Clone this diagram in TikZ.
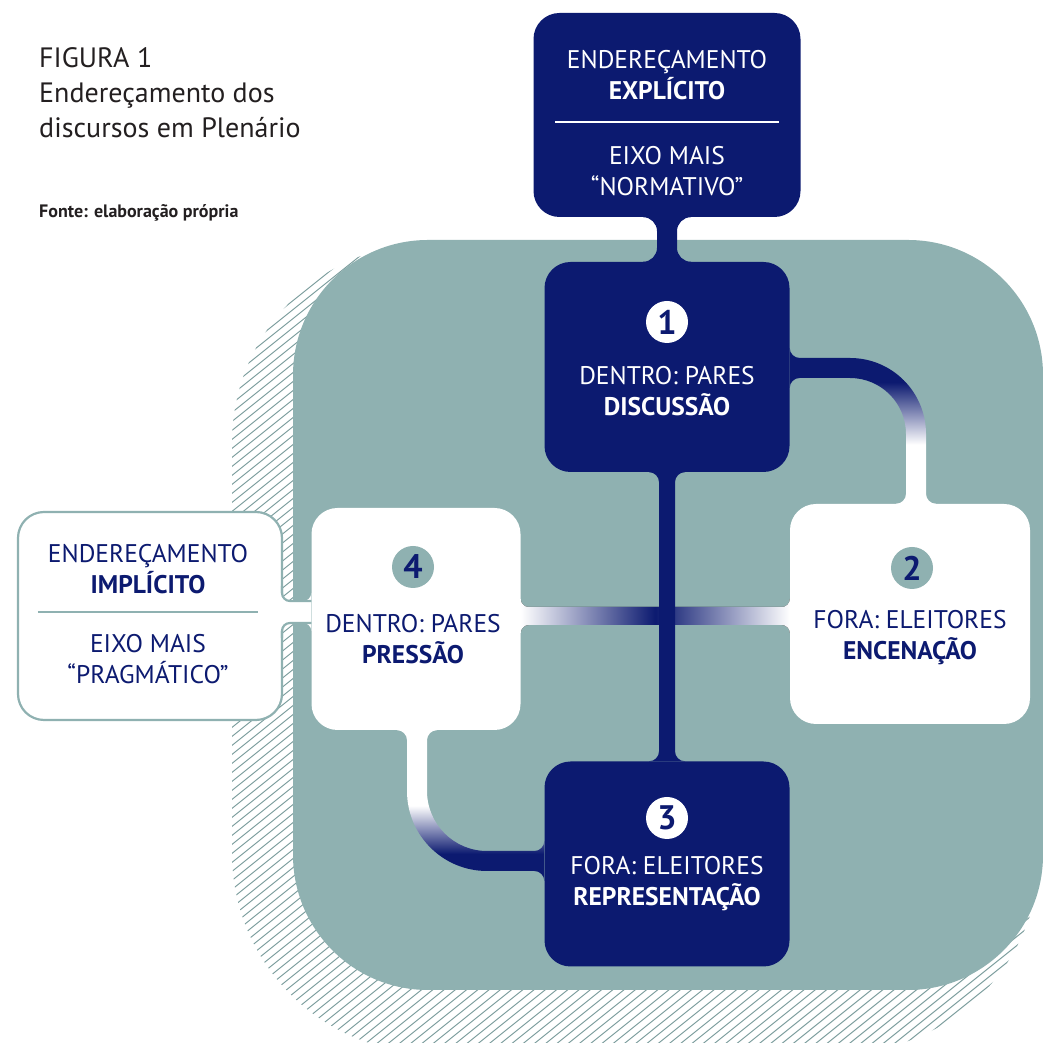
\documentclass[tikz,border=0pt]{standalone}
\usepackage{fontspec}
\setmainfont{PT Sans}
\usetikzlibrary{calc,positioning}

\definecolor{navy}{RGB}{12,26,112}
\definecolor{sage}{RGB}{143,177,177}
\definecolor{hatchc}{RGB}{125,158,158}
\definecolor{ink}{RGB}{35,31,32}

\pgfdeclarelayer{back}
\pgfdeclarelayer{links}
\pgfsetlayers{back,links,main}

\pgfdeclareverticalshading{fadeup}{100bp}{color(0bp)=(white); color(44bp)=(white); color(64bp)=(navy); color(100bp)=(navy)}
\pgfdeclareverticalshading{fadedown}{100bp}{color(0bp)=(navy); color(34bp)=(navy); color(50bp)=(white); color(100bp)=(white)}

% necks with round fillets: #1,#2 ends, #3 half width, #4 fillet, #5 fill
\newcommand{\hneck}[5]{%
  \fill[#5] ($(#1)+(0,#3+#4)$) arc[start angle=180,end angle=270,radius=#4pt]
    -- ($(#2)+(-#4,#3)$) arc[start angle=270,end angle=360,radius=#4pt]
    -- ($(#2)+(0,-#3-#4)$) arc[start angle=0,end angle=90,radius=#4pt]
    -- ($(#1)+(#4,-#3)$) arc[start angle=90,end angle=180,radius=#4pt] -- cycle;}
\newcommand{\vneck}[5]{%
  \fill[#5] ($(#1)+(-#3-#4,0)$) arc[start angle=90,end angle=0,radius=#4pt]
    -- ($(#2)+(-#3,#4)$) arc[start angle=0,end angle=-90,radius=#4pt]
    -- ($(#2)+(#3+#4,0)$) arc[start angle=270,end angle=180,radius=#4pt]
    -- ($(#1)+(#3,-#4)$) arc[start angle=180,end angle=90,radius=#4pt] -- cycle;}

\tikzset{
  darkbox/.style={rectangle, rounded corners=26pt, fill=navy, inner sep=0pt},
  lightbox/.style={rectangle, rounded corners=26pt, fill=white, inner sep=0pt},
  numdark/.style={circle, minimum size=42pt, inner sep=0pt, fill=white, text=navy, font=\fontsize{34}{34}\selectfont\bfseries},
  numlight/.style={numdark, fill=sage},
  lbl/.style={align=center, inner sep=0pt, font=\fontsize{25.5}{31}\selectfont},
  title/.style={anchor=base west, inner sep=0pt, text=ink, font=\fontsize{28}{28}\selectfont},
}

\begin{document}
\begin{tikzpicture}[x=1pt, y=1pt]
\useasboundingbox (0,0) rectangle (1043,1043);

% title
\node[title] (fig) at (39,975) {FIGURA 1};
\node[title] (tit1) at (39,940) {Endereçamento dos};
\node[title] (tit2) at (39,905) {discursos em Plenário};
\node[title, font=\fontsize{18}{18}\selectfont\bfseries] (fonte) at (39,825) {Fonte: elaboração própria};

% boxes
\node[darkbox, minimum width=267pt, minimum height=204pt] (exp) at (667,928) {};
\node[darkbox, minimum width=245pt, minimum height=210pt] (dis) at (667,676) {};
\node[lightbox, minimum width=240pt, minimum height=220pt] (enc) at (910,429) {};
\node[darkbox, minimum width=245pt, minimum height=205pt] (rep) at (667,179) {};
\node[lightbox, minimum width=209pt, minimum height=222pt] (pre) at (416,424) {};
\node[lightbox, draw=sage, line width=2.2pt, minimum width=264pt, minimum height=208pt] (imp) at (150,427) {};

% texts of the boxes
\node[lbl, text=white] (exp-a) at (667,968) {ENDEREÇAMENTO\\\textbf{EXPLÍCITO}};
\draw[white, line width=1.5pt] ($(exp.west)+(22,-7)$) -- ($(exp.east)+(-22,-7)$);
\node[lbl, text=white] (exp-b) at (667,872) {EIXO MAIS\\“NORMATIVO”};

\node[numdark] (n1) at ($(dis.center)+(0,45)$) {1};
\node[lbl, text=white] (dis-t) at ($(dis.center)+(0,-24)$) {DENTRO: PARES\\\textbf{DISCUSSÃO}};

\node[numlight] (n2) at ($(enc.center)+(2,46)$) {2};
\node[lbl, text=navy] (enc-t) at ($(enc.center)+(0,-24)$) {FORA: ELEITORES\\\textbf{ENCENAÇÃO}};

\node[numdark] (n3) at ($(rep.center)+(0,46)$) {3};
\node[lbl, text=white] (rep-t) at ($(rep.center)+(0,-20)$) {FORA: ELEITORES\\\textbf{REPRESENTAÇÃO}};

\node[numlight] (n4) at ($(pre.center)+(-3,52)$) {4};
\node[lbl, text=navy] (pre-t) at ($(pre.center)+(-3,-20)$) {DENTRO: PARES\\\textbf{PRESSÃO}};

\node[lbl, text=navy] (imp-a) at (148,474) {ENDEREÇAMENTO\\\textbf{IMPLÍCITO}};
\draw[sage, line width=2pt] ($(imp.west)+(21,4)$) -- ($(imp.east)+(-25,4)$);
\node[lbl, text=navy] (imp-b) at (148,384) {EIXO MAIS\\“PRAGMÁTICO”};

% neck from the implicit box into box 4
\coordinate (ic) at (0,431);
\coordinate (iL) at ($(imp.east |- ic)+(-1.1,0)$);
\fill[white] ($(iL)+(-1.6,-19)$) rectangle ($(iL)+(1.2,19)$);
\hneck{iL}{pre.west |- ic}{11}{8}{white}
\draw[sage, line width=2.2pt] ($(iL)+(0,26)$) -- ($(iL)+(0,19)$) arc[start angle=180,end angle=270,radius=8pt] -- ($(pre.west |- ic)+(0,11)$);
\draw[sage, line width=2.2pt] ($(iL)+(0,-26)$) -- ($(iL)+(0,-19)$) arc[start angle=180,end angle=90,radius=8pt] -- ($(pre.west |- ic)+(0,-11)$);

% links between the boxes
\begin{pgfonlayer}{links}
  \vneck{exp.south}{dis.north}{10}{14}{navy}
  \coordinate (hc) at (0,427);
  \hneck{pre.east |- hc}{enc.west |- hc}{9}{8}{left color=white, right color=white, middle color=navy}
  \vneck{dis.south}{rep.north}{8}{10}{navy}
  % 1 -> 2
  \coordinate (k1) at (916,675);
  \shade[shading=fadeup] ($(dis.east |- k1)+(0,20)$) arc[start angle=180,end angle=270,radius=10pt]
    -- ($(k1)+(-66,10)$) arc[start angle=90,end angle=0,radius=76pt]
    -- ($(enc.north -| k1)+(10,10)$) arc[start angle=180,end angle=270,radius=10pt]
    -- ($(enc.north -| k1)+(-20,0)$) arc[start angle=270,end angle=360,radius=10pt]
    -- ($(k1)+(-10,-66)$) arc[start angle=0,end angle=90,radius=56pt]
    -- ($(dis.east |- k1)+(10,-10)$) arc[start angle=90,end angle=180,radius=10pt] -- cycle;
  % 4 -> 3
  \coordinate (k2) at (417,182);
  \shade[shading=fadedown] ($(pre.south -| k2)+(-20,0)$) arc[start angle=90,end angle=0,radius=10pt]
    -- ($(k2)+(-10,70)$) arc[start angle=180,end angle=270,radius=80pt]
    -- ($(rep.west |- k2)+(-10,-10)$) arc[start angle=90,end angle=0,radius=10pt]
    -- ($(rep.west |- k2)+(0,20)$) arc[start angle=0,end angle=-90,radius=10pt]
    -- ($(k2)+(70,10)$) arc[start angle=270,end angle=180,radius=60pt]
    -- ($(pre.south -| k2)+(10,-10)$) arc[start angle=180,end angle=90,radius=10pt] -- cycle;
\end{pgfonlayer}

% hatched shadow and the field
\begin{pgfonlayer}{back}
  \begin{scope}
    \clip[rounded corners=200pt] (232,-10) rectangle (1040,800);
    \foreach \i in {-700,-691,...,790}
      \draw[hatchc, line width=1pt] (200,\i) -- ++(900,720);
  \end{scope}
  \fill[sage, rounded corners=135pt] (293,53) rectangle (1043,803);
\end{pgfonlayer}
\end{tikzpicture}
\end{document}
